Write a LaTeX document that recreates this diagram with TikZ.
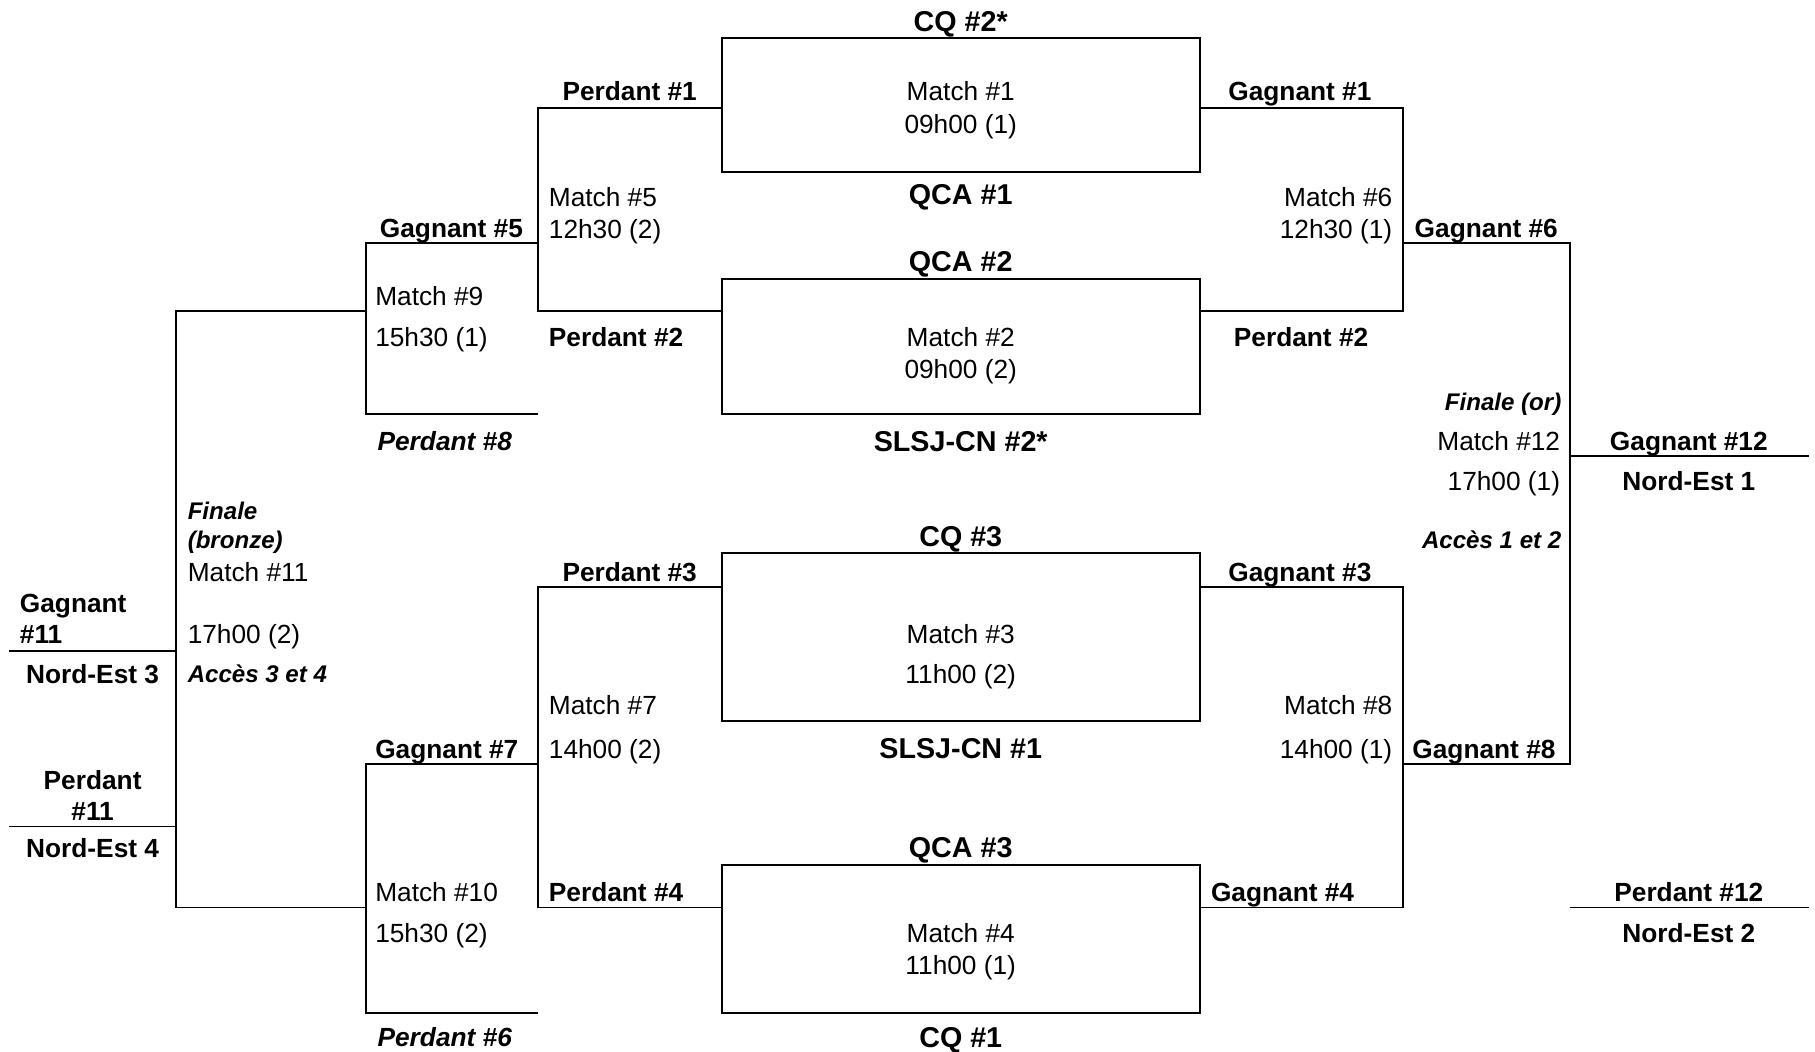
\documentclass[tikz,border=0pt]{standalone}
\usepackage{fontspec}
\setmainfont{Liberation Sans}
\begin{document}
\begin{tikzpicture}[x=1pt,y=-1pt,
  ln/.style={line width=1.7pt},
  box/.style={draw,line width=1.7pt,minimum width=413pt,minimum height=#1,inner sep=0pt},
  t/.style={inner sep=0pt,text height=16.3pt,text depth=0pt,font=\fontsize{22.7}{27}\selectfont},
  b/.style={t,font=\fontsize{22.7}{27}\selectfont\bfseries},
  bi/.style={t,font=\fontsize{22.7}{27}\selectfont\bfseries\itshape},
  cb/.style={inner sep=0pt,text height=17.8pt,text depth=0pt,font=\fontsize{24.8}{29}\selectfont\bfseries},
  sbi/.style={inner sep=0pt,text height=14.9pt,text depth=0pt,font=\fontsize{20.8}{25}\selectfont\bfseries\itshape},
]
\useasboundingbox (0,0) rectangle (1568,908);

% boxes
\node[box=116pt] (m1) at (830.5,91) {};
\node[box=117pt] (m2) at (830.5,299.5) {};
\node[box=145pt] (m3) at (830.5,550.5) {};
\node[box=128pt] (m4) at (830.5,811) {};

% coordinates
\coordinate (l5a) at (465,93);
\coordinate (l5b) at (465,269);
\coordinate (l5m) at (465,210);
\coordinate (l9a) at (316,210);
\coordinate (l9b) at (316,358);
\coordinate (l9e) at (465,358);
\coordinate (l9m) at (316,269);
\coordinate (l11a) at (152,269);
\coordinate (l11b) at (152,784);
\coordinate (l11g) at (152,562);
\coordinate (l11p) at (152,714);
\coordinate (g11e) at (8,562);
\coordinate (p11e) at (8,714);
\coordinate (l10m) at (316,784);
\coordinate (l10a) at (316,660);
\coordinate (l10b) at (316,875);
\coordinate (l10e) at (465,875);
\coordinate (l7a) at (465,507);
\coordinate (l7b) at (465,784);
\coordinate (l7m) at (465,660);
\coordinate (r6a) at (1212,93);
\coordinate (r6b) at (1212,269);
\coordinate (r6m) at (1212,210);
\coordinate (r8a) at (1212,507);
\coordinate (r8b) at (1212,784);
\coordinate (r8m) at (1212,660);
\coordinate (r12a) at (1356,210);
\coordinate (r12b) at (1356,660);
\coordinate (r12g) at (1356,394);
\coordinate (g12e) at (1563,394);
\coordinate (p12s) at (1356,784);
\coordinate (p12e) at (1563,784);

% left brackets
\draw[ln] (m1.west |- l5a) -- (l5a) -- (l5b) -- (m2.west |- l5b);
\draw[ln] (m3.west |- l7a) -- (l7a) -- (l7b) -- (m4.west |- l7b);
\draw[ln] (l5m) -- (l9a) -- (l9b) -- (l9e);
\draw[ln] (l7m) -- (l10a) -- (l10b) -- (l10e);
\draw[ln] (l9m) -- (l11a) -- (l11b) -- (l10m);
\draw[ln] (l11g) -- (g11e);
\draw[ln] (l11p) -- (p11e);
% right brackets
\draw[ln] (m1.east |- r6a) -- (r6a) -- (r6b) -- (m2.east |- r6b);
\draw[ln] (m3.east |- r8a) -- (r8a) -- (r8b) -- (m4.east |- r8b);
\draw[ln] (r6m) -- (r12a) -- (r12b) -- (r8m);
\draw[ln] (r12g) -- (g12e);
\draw[ln] (p12s) -- (p12e);

% centre texts
\node[cb] (cq2) at (830,18) {CQ \#2*};
\node[t] (m1a) at (830,79) {Match \#1};
\node[t] (m1b) at (830,107) {09h00 (1)};
\node[cb] (qca1) at (830,168) {QCA \#1};
\node[cb] (qca2) at (830,226) {QCA \#2};
\node[t] (m2a) at (830,291) {Match \#2};
\node[t] (m2b) at (830,319) {09h00 (2)};
\node[cb] (slsj2) at (830,381) {SLSJ-CN \#2*};
\node[cb] (cq3) at (830,463) {CQ \#3};
\node[t] (m3a) at (830,548) {Match \#3};
\node[t] (m3b) at (830,582) {11h00 (2)};
\node[cb] (slsj1) at (830,646) {SLSJ-CN \#1};
\node[cb] (qca3) at (830,732) {QCA \#3};
\node[t] (m4a) at (830,806) {Match \#4};
\node[t] (m4b) at (830,834) {11h00 (1)};
\node[cb] (cq1) at (830,896) {CQ \#1};

% left texts
\node[b] (lp1) at (544,79) {Perdant \#1};
\node[t,anchor=west] (m5a) at (474,170) {Match \#5};
\node[t,anchor=west] (m5b) at (474,198) {12h30 (2)};
\node[b,anchor=west] (lp2) at (474,291) {Perdant \#2};
\node[b] (g5) at (390,197) {Gagnant \#5};
\node[t,anchor=west] (m9a) at (324,256) {Match \#9};
\node[t,anchor=west] (m9b) at (324,291) {15h30 (1)};
\node[bi,anchor=west] (p8) at (326,381) {Perdant \#8};
\node[sbi,anchor=west] (f11a) at (162,441) {Finale};
\node[sbi,anchor=west] (f11b) at (162,466) {(bronze)};
\node[t,anchor=west] (m11a) at (162,494) {Match \#11};
\node[t,anchor=west] (m11b) at (162,548) {17h00 (2)};
\node[sbi,anchor=west] (a34) at (162,582) {Accès 3 et 4};
\node[b,anchor=west] (g11a) at (17,521) {Gagnant};
\node[b,anchor=west] (g11b) at (17,548) {\#11};
\node[b] (ne3) at (80,582) {Nord-Est 3};
\node[b] (p11a) at (80,674) {Perdant};
\node[b] (p11b) at (80,701) {\#11};
\node[b] (ne4) at (80,733) {Nord-Est 4};
\node[b] (lp3) at (544,494) {Perdant \#3};
\node[t,anchor=west] (m7a) at (474,609) {Match \#7};
\node[t,anchor=west] (m7b) at (474,647) {14h00 (2)};
\node[b] (g7) at (386,647) {Gagnant \#7};
\node[b,anchor=west] (lp4) at (474,771) {Perdant \#4};
\node[t,anchor=west] (m10a) at (324,771) {Match \#10};
\node[t,anchor=west] (m10b) at (324,806) {15h30 (2)};
\node[bi,anchor=west] (p6) at (326,896) {Perdant \#6};

% right texts
\node[b] (rg1) at (1123,79) {Gagnant \#1};
\node[t,anchor=east] (m6a) at (1203,170) {Match \#6};
\node[t,anchor=east] (m6b) at (1203,198) {12h30 (1)};
\node[b] (rp2) at (1124,291) {Perdant \#2};
\node[b] (g6) at (1284,197) {Gagnant \#6};
\node[sbi,anchor=east] (f12) at (1349,347) {Finale (or)};
\node[t,anchor=east] (m12a) at (1348,381) {Match \#12};
\node[t,anchor=east] (m12b) at (1348,416) {17h00 (1)};
\node[sbi,anchor=east] (a12) at (1349,466) {Accès 1 et 2};
\node[b] (g12) at (1459,381) {Gagnant \#12};
\node[b] (ne1) at (1459,416) {Nord-Est 1};
\node[b] (rg3) at (1123,494) {Gagnant \#3};
\node[t,anchor=east] (m8a) at (1203,609) {Match \#8};
\node[t,anchor=east] (m8b) at (1203,647) {14h00 (1)};
\node[b] (g8) at (1282,647) {Gagnant \#8};
\node[b] (rg4) at (1108,771) {Gagnant \#4};
\node[b] (p12) at (1459,771) {Perdant \#12};
\node[b] (ne2) at (1459,806) {Nord-Est 2};
\end{tikzpicture}
\end{document}
